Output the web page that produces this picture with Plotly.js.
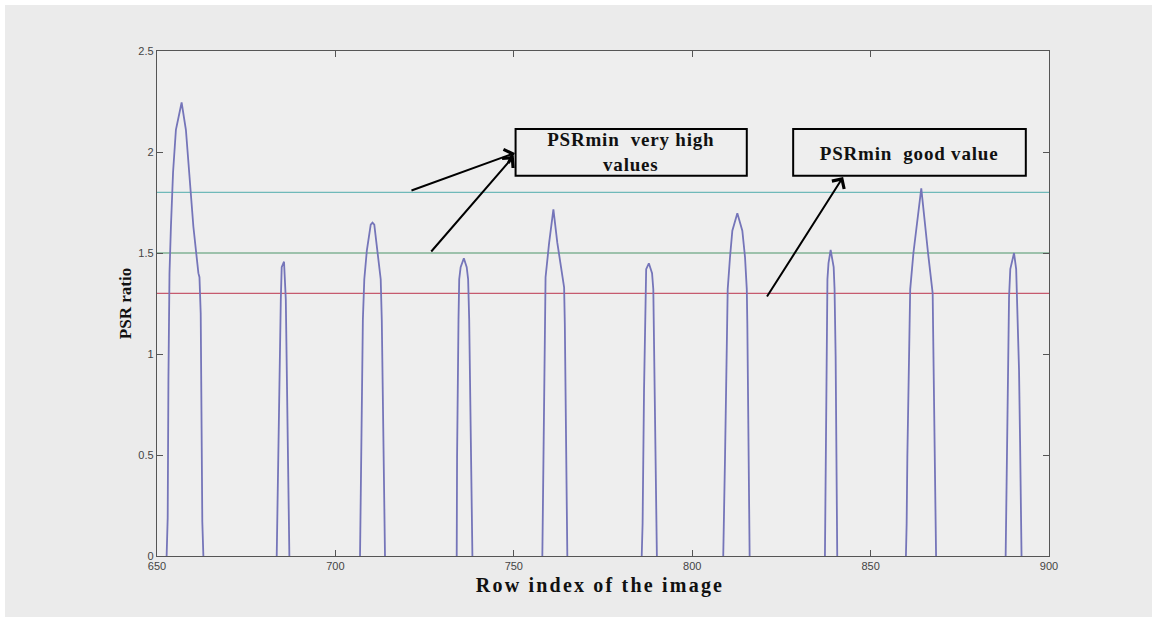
<!DOCTYPE html>
<html>
<head>
<meta charset="utf-8">
<script src="https://cdn.plot.ly/plotly-3.0.1.min.js"></script>
<style>
  html, body { margin: 0; padding: 0; background: #ffffff; }
  #chart { position: absolute; left: 5px; top: 5px; width: 1147px; height: 612px; }
  #chart .annotation-text { letter-spacing: 0.8px; }
  #chart .annotation[data-index="0"] .annotation-text { letter-spacing: 2.2px; }
</style>
</head>
<body>
<div id="chart"></div>
<script>
// PSR ratio per row index: one list of (row, ratio) samples for each peak
const peakRows = [
  [652.7, 653.0, 653.2, 653.5, 653.9, 654.5, 655.3, 656.9, 658.1, 659.0, 660.2, 661.6, 661.9, 662.25, 662.7, 663.0],
  [683.55, 683.7, 684.0, 684.2, 684.7, 684.95, 685.6, 686.1, 686.4, 686.5, 687.1],
  [706.9, 707.2, 707.7, 708.1, 708.8, 709.9, 710.4, 710.9, 711.7, 712.7, 713.0, 713.4, 713.9],
  [734.0, 734.1, 734.5, 734.7, 735.1, 736.0, 736.8, 737.2, 737.5, 737.9, 738.4],
  [758.0, 758.1, 758.3, 758.5, 758.7, 758.9, 759.9, 761.1, 762.2, 764.1, 764.3, 764.5, 764.8, 765.0],
  [785.85, 786.1, 786.5, 786.9, 787.1, 787.85, 788.75, 789.1, 789.5, 789.85, 790.1],
  [808.7, 808.9, 809.2, 809.5, 809.7, 809.95, 810.6, 811.25, 812.65, 814.05, 814.8, 815.3, 815.45, 815.65, 815.85, 816.1],
  [837.2, 837.4, 837.6, 837.9, 838.2, 838.8, 839.65, 839.9, 840.2, 840.35, 840.65],
  [859.9, 860.1, 860.3, 860.6, 860.8, 861.1, 862.0, 864.2, 866.1, 867.4, 867.5, 867.8, 867.95, 868.35],
  [887.85, 888.15, 888.4, 888.8, 889.15, 890.2, 890.8, 891.0, 891.6, 891.9, 892.3]
];
const peakRatios = [
  [0, 0.19, 0.87, 1.40, 1.63, 1.90, 2.11, 2.245, 2.11, 1.90, 1.63, 1.40, 1.38, 1.20, 0.17, 0],
  [0, 0.18, 0.54, 0.90, 1.27, 1.43, 1.457, 1.27, 0.90, 0.54, 0],
  [0, 0.50, 1.17, 1.37, 1.51, 1.64, 1.65, 1.64, 1.51, 1.37, 1.17, 0.50, 0],
  [0, 0.49, 1.17, 1.37, 1.43, 1.474, 1.43, 1.37, 1.17, 0.49, 0],
  [0, 0.16, 0.51, 0.86, 1.20, 1.38, 1.55, 1.716, 1.55, 1.33, 1.15, 0.82, 0.16, 0],
  [0, 0.16, 0.82, 1.32, 1.42, 1.449, 1.40, 1.32, 0.82, 0.16, 0],
  [0, 0.16, 0.49, 0.82, 1.15, 1.32, 1.48, 1.61, 1.697, 1.61, 1.48, 1.32, 1.15, 0.82, 0.49, 0],
  [0, 0.49, 0.99, 1.37, 1.45, 1.515, 1.43, 1.32, 0.99, 0.76, 0],
  [0, 0.16, 0.49, 0.82, 1.15, 1.32, 1.50, 1.82, 1.50, 1.30, 1.15, 0.82, 0.49, 0],
  [0, 0.49, 0.92, 1.28, 1.42, 1.50, 1.42, 1.28, 0.92, 0.56, 0]
];

// PSRmin threshold levels and their line colours
const thresholdLevels = [1.8, 1.5, 1.3];
const thresholdColors = ['#6fb9b9', '#4a9468', '#c65a6e'];

const xTicks = [650, 700, 750, 800, 850, 900];
const yTicks = [0, 0.5, 1, 1.5, 2, 2.5];

// join the peaks into one line, broken between peaks
const rowX = [];
const ratioY = [];
peakRows.forEach((rows, i) => {
  rows.forEach((r, j) => { rowX.push(r); ratioY.push(peakRatios[i][j]); });
  rowX.push(null); ratioY.push(null);
});

const traces = thresholdLevels.map((lvl, i) => ({
  x: [xTicks[0], xTicks[xTicks.length - 1]],
  y: [lvl, lvl],
  mode: 'lines',
  line: { color: thresholdColors[i], width: 1.2 },
  hoverinfo: 'skip'
}));
traces.push({
  x: rowX,
  y: ratioY,
  mode: 'lines',
  connectgaps: false,
  line: { color: '#7575b9', width: 1.8 },
  hoverinfo: 'skip'
});

const serifBold = { family: 'Liberation Serif, Times New Roman, serif', size: 19, color: '#111', weight: 'bold' };
const tickFont = { family: 'Liberation Sans, Arial, sans-serif', size: 11, color: '#444' };

const axisCommon = {
  showgrid: false,
  zeroline: false,
  showline: true,
  linecolor: '#555',
  linewidth: 1.2,
  mirror: 'ticks',
  ticks: 'inside',
  ticklen: 6,
  tickcolor: '#555',
  tickfont: tickFont
};

const layout = {
  width: 1147,
  height: 612,
  paper_bgcolor: '#ebebeb',
  plot_bgcolor: '#eeeeee',
  showlegend: false,
  margin: { l: 152, r: 103, t: 46, b: 61 },
  xaxis: Object.assign({}, axisCommon, {
    range: [650, 900],
    tickvals: xTicks,
    ticktext: xTicks.map(String)
  }),
  yaxis: Object.assign({}, axisCommon, {
    range: [0, 2.5],
    tickvals: yTicks,
    ticktext: yTicks.map(String),
    title: { text: 'PSR ratio', font: Object.assign({}, serifBold, { size: 17 }), standoff: 2 }
  }),
  shapes: [
    { type: 'rect', xref: 'x', yref: 'y', x0: 750.5, x1: 815.3, y0: 1.883, y1: 2.114,
      line: { color: '#000', width: 2 }, fillcolor: '#eeeeee', layer: 'above' },
    { type: 'rect', xref: 'x', yref: 'y', x0: 828.3, x1: 893.5, y0: 1.883, y1: 2.114,
      line: { color: '#000', width: 2 }, fillcolor: '#eeeeee', layer: 'above' }
  ],
  annotations: [
    // x-axis title, set just under the tick labels
    { x: 0.497, y: 0, xref: 'paper', yref: 'paper', yanchor: 'middle', yshift: -29,
      text: 'Row index of the image', showarrow: false,
      font: Object.assign({}, serifBold, { size: 20 }) },
    { x: 782.9, y: 1.998, xref: 'x', yref: 'y', text: 'PSRmin  very high<br>values', showarrow: false,
      font: serifBold, align: 'center' },
    { x: 860.9, y: 1.995, xref: 'x', yref: 'y', text: 'PSRmin  good value', showarrow: false,
      font: serifBold, align: 'center' },
    { x: 750.3, y: 1.995, ax: 720.9, ay: 1.807, xref: 'x', yref: 'y', axref: 'x', ayref: 'y',
      text: '', showarrow: true, arrowhead: 4, arrowsize: 1.4, arrowwidth: 2, arrowcolor: '#000' },
    { x: 750.0, y: 1.98, ax: 726.5, ay: 1.50, xref: 'x', yref: 'y', axref: 'x', ayref: 'y',
      text: '', showarrow: true, arrowhead: 4, arrowsize: 1.4, arrowwidth: 2, arrowcolor: '#000' },
    { x: 842.3, y: 1.876, ax: 820.7, ay: 1.277, xref: 'x', yref: 'y', axref: 'x', ayref: 'y',
      text: '', showarrow: true, arrowhead: 4, arrowsize: 1.4, arrowwidth: 2, arrowcolor: '#000' }
  ]
};

Plotly.newPlot('chart', traces, layout, { staticPlot: true, displayModeBar: false });
</script>
</body>
</html>
